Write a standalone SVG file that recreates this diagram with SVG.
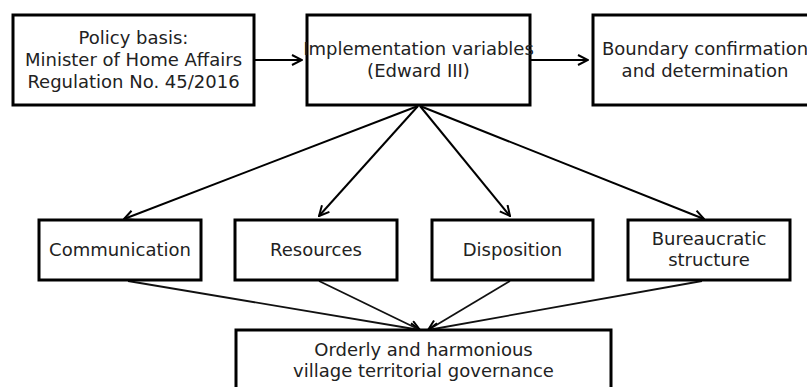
<svg xmlns="http://www.w3.org/2000/svg" width="807" height="387" viewBox="0 0 807 387">
<style>
.box{fill:#fff;stroke:#000;stroke-width:3}
.t{font-family:"DejaVu Sans",sans-serif;font-size:18px;fill:#222;text-anchor:middle}
.e{stroke:#000;stroke-width:2;fill:none;marker-end:url(#a)}
.e2{stroke:#111;stroke-width:1.8;fill:none;marker-end:url(#a)}
</style>
<defs>
<marker id="a" viewBox="0 0 12 12" refX="11" refY="6" markerWidth="12" markerHeight="12" markerUnits="userSpaceOnUse" orient="auto">
<path d="M1,1 L11,6 L1,11" fill="none" stroke="#000" stroke-width="2"/>
</marker>
</defs>
<g id="connectors">
<line class="e" x1="255" y1="60" x2="302" y2="60"/>
<line class="e" x1="531" y1="60" x2="588" y2="60"/>
<line class="e" x1="418" y1="106" x2="124" y2="219"/>
<line class="e" x1="418" y1="106" x2="319" y2="216"/>
<line class="e" x1="420" y1="106" x2="510" y2="216"/>
<line class="e" x1="420" y1="106" x2="704" y2="219"/>
<line class="e2" x1="128" y1="281" x2="420" y2="330"/>
<line class="e2" x1="319" y1="281" x2="420" y2="330"/>
<line class="e2" x1="510" y1="281" x2="428" y2="330"/>
<line class="e2" x1="702" y1="281" x2="428" y2="330"/>
</g>
<g id="policy">
<rect class="box" x="13" y="15" width="241" height="90"/>
<text class="t" x="133.5" y="44">Policy basis:</text>
<text class="t" x="133.5" y="66">Minister of Home Affairs</text>
<text class="t" x="133.5" y="88">Regulation No. 45/2016</text>
</g>
<g id="implementation">
<rect class="box" x="307" y="15" width="223" height="90"/>
<text class="t" x="418.5" y="55">Implementation variables</text>
<text class="t" x="418.5" y="77">(Edward III)</text>
</g>
<g id="boundary">
<rect class="box" x="593" y="15" width="224" height="90"/>
<text class="t" x="705" y="55">Boundary confirmation</text>
<text class="t" x="705" y="77">and determination</text>
</g>
<g id="communication">
<rect class="box" x="39" y="220" width="162" height="60"/>
<text class="t" x="120" y="256">Communication</text>
</g>
<g id="resources">
<rect class="box" x="235" y="220" width="162" height="60"/>
<text class="t" x="316" y="256">Resources</text>
</g>
<g id="disposition">
<rect class="box" x="432" y="220" width="161" height="60"/>
<text class="t" x="512.5" y="256">Disposition</text>
</g>
<g id="bureaucratic">
<rect class="box" x="628" y="220" width="162" height="60"/>
<text class="t" x="709" y="245">Bureaucratic</text>
<text class="t" x="709" y="266">structure</text>
</g>
<g id="governance">
<rect class="box" x="236" y="330" width="375" height="70"/>
<text class="t" x="423.5" y="356">Orderly and harmonious</text>
<text class="t" x="423.5" y="377">village territorial governance</text>
</g>
</svg>
